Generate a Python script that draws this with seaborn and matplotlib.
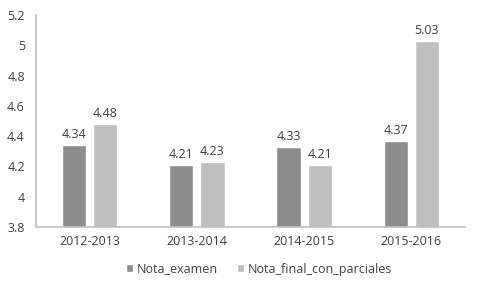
import matplotlib
matplotlib.use("Agg")
import matplotlib.pyplot as plt
import matplotlib.ticker as mticker
import seaborn as sns
import pandas as pd

categories = ["2012-2013", "2013-2014", "2014-2015", "2015-2016"]
nota_examen = [4.34, 4.21, 4.33, 4.37]
nota_final = [4.48, 4.23, 4.21, 5.03]
series_names = ["Nota_examen", "Nota_final_con_parciales"]

df = pd.DataFrame({
    "curso": categories * 2,
    "valor": nota_examen + nota_final,
    "serie": [series_names[0]] * 4 + [series_names[1]] * 4,
})

sns.set_theme(style="white")
plt.rcParams["font.family"] = ["Open Sans", "DejaVu Sans"]
text_color = "#404040"

fig = plt.figure(figsize=(4.8, 2.88), dpi=100)
ax = fig.add_axes([36 / 480, 1 - 227 / 288, 429 / 480, 212 / 288])

sns.barplot(data=df, x="curso", y="valor", hue="serie",
            palette=["#8c8c8c", "#bfbfbf"], width=0.58, gap=0.22,
            ax=ax, saturation=1, legend=True)

ax.set_ylim(3.8, 5.2)
ax.set_xlim(-0.5, 3.5)
ax.yaxis.set_major_locator(mticker.MultipleLocator(0.2))
ax.yaxis.set_major_formatter(mticker.FuncFormatter(lambda v, p: f"{round(v, 1):g}"))
ax.set_xlabel("")
ax.set_ylabel("")

for cont in ax.containers:
    ax.bar_label(cont, fmt="%.2f", padding=3, fontsize=9, color=text_color)

for s in ["top", "right"]:
    ax.spines[s].set_visible(False)
for s in ["left", "bottom"]:
    ax.spines[s].set_color("#bfbfbf")
    ax.spines[s].set_linewidth(1.2)

ax.tick_params(axis="both", length=0, labelsize=9, colors=text_color)
ax.tick_params(axis="y", pad=8)
ax.tick_params(axis="x", pad=6)

handles, labels = ax.get_legend_handles_labels()
ax.legend(handles, labels, loc="center", bbox_to_anchor=(0.52, -(269 - 227) / 212),
          ncol=2, frameon=False, fontsize=9, labelcolor=text_color,
          handlelength=0.6, handleheight=0.6, handletextpad=0.3, columnspacing=1.5)

fig.savefig("out.png", dpi=100)
